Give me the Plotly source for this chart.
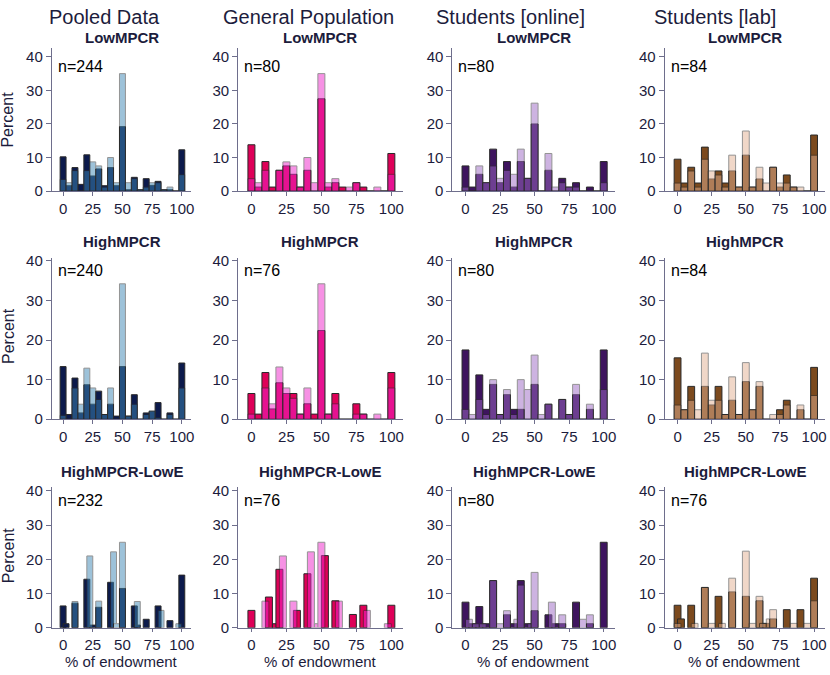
import plotly.graph_objects as go

W, H = 830, 675

BINS = [0, 5, 10, 15, 20, 25, 30, 35, 40, 45, 50, 55, 60, 65, 70, 75, 80, 85, 90, 95, 100]

COLUMNS = ['Pooled Data', 'General Population', 'Students [online]', 'Students [lab]']
ROWS = ['LowMPCR', 'HighMPCR', 'HighMPCR-LowE']
N_OBS = [[244, 80, 80, 84], [240, 76, 80, 84], [232, 76, 80, 76]]

# percent per bin (BINS), dark series (A) and light series (B)
POOLED_LOW_A = [10.2, 1.6, 7.0, 2.0, 10.8, 4.5, 6.6, 1.6, 7.0, 1.6, 19.2, 0.4, 4.1, 0.4, 3.7, 1.7, 2.9, 0.4, 0.4, 0, 12.3]
POOLED_LOW_B = [3.5, 2.5, 6.1, 0, 6.1, 8.7, 7.5, 1.2, 10.0, 2.5, 35.0, 2.5, 3.7, 0.4, 1.2, 2.5, 2.5, 0.4, 1.2, 0, 4.9]
GENPOP_LOW_A = [13.8, 1.2, 8.8, 1.2, 6.2, 7.5, 5.0, 1.2, 6.2, 0, 27.5, 1.2, 2.5, 1.2, 0, 2.5, 1.2, 0, 0, 0, 11.2]
GENPOP_LOW_B = [3.7, 2.5, 6.2, 0, 6.2, 8.7, 7.5, 1.2, 10.0, 2.5, 35.0, 2.5, 3.7, 0, 1.2, 2.5, 0, 0, 1.2, 0, 5.0]
ONLINE_LOW_A = [7.5, 1.2, 5.0, 2.5, 12.5, 2.5, 8.8, 1.2, 8.8, 3.8, 20.0, 0, 6.2, 0, 3.8, 1.2, 2.5, 0, 1.2, 0, 8.8]
ONLINE_LOW_B = [1.2, 0, 7.5, 2.5, 7.5, 3.8, 6.2, 5.0, 12.5, 3.8, 26.2, 0, 11.2, 1.2, 2.5, 1.2, 1.2, 0, 0, 0, 2.5]
LAB_LOW_A = [9.5, 2.4, 7.1, 2.4, 13.1, 3.6, 6.0, 2.4, 6.0, 1.2, 10.7, 1.2, 3.6, 0, 7.1, 1.2, 4.8, 1.2, 0, 0, 16.7]
LAB_LOW_B = [2.4, 1.2, 6.0, 1.2, 9.5, 6.0, 4.8, 1.2, 10.7, 1.2, 17.9, 1.2, 7.1, 2.4, 7.1, 2.4, 2.4, 1.2, 1.2, 0, 10.7]

POOLED_HIGH_A = [13.3, 1.2, 10.4, 1.6, 8.7, 3.8, 7.1, 1.2, 3.8, 0.8, 13.3, 0.8, 6.2, 0, 1.6, 2.0, 4.2, 0, 1.6, 0, 14.2]
POOLED_HIGH_B = [1.0, 0, 7.9, 3.8, 12.9, 7.9, 5.0, 1.2, 7.9, 0, 34.2, 0.8, 3.8, 0, 1.2, 2.1, 0.4, 0, 1.2, 0, 7.9]
GENPOP_HIGH_A = [6.5, 1.3, 11.8, 2.6, 9.2, 6.5, 6.5, 1.3, 3.9, 1.3, 22.4, 1.3, 6.5, 0, 0, 3.9, 1.3, 0, 0, 0, 11.8]
GENPOP_HIGH_B = [1.3, 0, 7.9, 3.9, 13.2, 7.9, 5.3, 1.3, 7.9, 0, 34.2, 1.3, 3.9, 0, 0, 1.3, 1.3, 0, 1.3, 0, 7.9]
ONLINE_HIGH_A = [17.5, 0, 11.2, 2.5, 8.8, 1.2, 6.2, 2.5, 2.5, 0, 8.8, 0, 3.8, 0, 5.0, 1.2, 6.2, 0, 2.5, 0, 17.5]
ONLINE_HIGH_B = [2.5, 1.2, 5.0, 1.2, 10.0, 1.2, 7.5, 1.2, 10.0, 7.5, 16.2, 1.2, 3.8, 0, 5.0, 1.2, 8.8, 0, 3.8, 0, 7.5]
LAB_HIGH_A = [15.5, 2.4, 8.3, 0, 8.3, 3.6, 8.3, 1.2, 4.8, 1.2, 9.5, 2.4, 8.3, 0, 0, 2.4, 4.8, 0, 2.4, 0, 13.1]
LAB_HIGH_B = [3.6, 2.4, 4.8, 2.4, 16.7, 4.8, 4.8, 1.2, 10.7, 1.2, 14.3, 2.4, 9.5, 0, 1.2, 1.2, 3.6, 0, 3.6, 0, 6.0]

# HighMPCR-LowE: the two series sit on different grids
POOLED_LOWE_A_X = [0, 2.5, 10, 20, 25, 30, 40, 50, 60, 62.5, 70, 80, 90, 100]
POOLED_LOWE_A = [6.4, 1.2, 7.2, 14.2, 0.8, 6.0, 13.3, 11.5, 6.4, 0.8, 2.5, 6.4, 2.1, 15.4]
POOLED_LOWE_B_X = [10, 22.5, 30, 42.5, 45, 50, 62.5, 82.5, 97.5]
POOLED_LOWE_B = [7.7, 21.0, 7.8, 22.2, 1.2, 25.0, 7.7, 5.1, 1.2]
GENPOP_LOWE_A_X = [0, 12.5, 17.5, 20, 32.5, 40, 52.5, 60, 72.5, 80, 100]
GENPOP_LOWE_A = [5.1, 9.0, 1.2, 17.1, 5.1, 15.8, 21.1, 7.9, 3.9, 6.6, 6.6]
GENPOP_LOWE_B_X = [10, 22.5, 30, 42.5, 47.5, 50, 62.5, 82.5, 97.5]
GENPOP_LOWE_B = [7.8, 21.0, 7.8, 22.2, 1.2, 25.0, 7.8, 5.1, 1.2]
ONLINE_LOWE_A_X = [0, 5, 10, 15, 20, 30, 35, 40, 45, 50, 60, 65, 70, 80, 90, 100]
ONLINE_LOWE_A = [7.5, 1.2, 6.2, 1.2, 13.8, 3.8, 1.2, 13.8, 1.2, 5.0, 3.8, 1.2, 1.2, 7.5, 1.2, 25.0]
ONLINE_LOWE_B_X = [2.5, 7.5, 12.5, 20, 25, 30, 37.5, 40, 47.5, 50, 62.5, 70, 85, 90]
ONLINE_LOWE_B = [2.5, 1.2, 1.2, 13.8, 1.2, 5.0, 2.5, 12.5, 1.2, 16.2, 7.5, 3.8, 2.5, 3.8]
LAB_LOWE_A_X = [0, 2.5, 10, 20, 30, 40, 50, 60, 65, 70, 80, 90, 100]
LAB_LOWE_A = [6.6, 2.6, 6.6, 11.8, 9.2, 10.5, 9.2, 7.9, 1.3, 2.6, 5.3, 5.3, 14.5]
LAB_LOWE_B_X = [0, 12.5, 20, 25, 32.5, 40, 50, 55, 60, 62.5, 67.5, 70, 85, 95, 100]
LAB_LOWE_B = [1.3, 1.3, 11.8, 1.3, 1.3, 14.5, 22.4, 1.3, 9.2, 1.3, 2.6, 5.3, 1.3, 1.3, 7.9]

# dark colour (opaque), light colour (drawn on top at half opacity)
DARK = ['#0d1b4d', '#de0058', '#3e145f', '#7d4b1e']
LIGHT = ['#3d85b3', '#ed25c9', '#9b69c3', '#e1af91']

PANELS = [
    [(BINS, POOLED_LOW_A, BINS, POOLED_LOW_B), (BINS, GENPOP_LOW_A, BINS, GENPOP_LOW_B),
     (BINS, ONLINE_LOW_A, BINS, ONLINE_LOW_B), (BINS, LAB_LOW_A, BINS, LAB_LOW_B)],
    [(BINS, POOLED_HIGH_A, BINS, POOLED_HIGH_B), (BINS, GENPOP_HIGH_A, BINS, GENPOP_HIGH_B),
     (BINS, ONLINE_HIGH_A, BINS, ONLINE_HIGH_B), (BINS, LAB_HIGH_A, BINS, LAB_HIGH_B)],
    [(POOLED_LOWE_A_X, POOLED_LOWE_A, POOLED_LOWE_B_X, POOLED_LOWE_B),
     (GENPOP_LOWE_A_X, GENPOP_LOWE_A, GENPOP_LOWE_B_X, GENPOP_LOWE_B),
     (ONLINE_LOWE_A_X, ONLINE_LOWE_A, ONLINE_LOWE_B_X, ONLINE_LOWE_B),
     (LAB_LOWE_A_X, LAB_LOWE_A, LAB_LOWE_B_X, LAB_LOWE_B)],
]

# plot areas in pixels
COL_PX = [(52, 192), (239, 404), (454, 617), (667, 828)]
ROW_PX = [(43, 189), (257, 422), (491, 635)]
Y_TOP = [42.6, 40.8, 41.2]
TITLE_Y = [32, 240, 475]
N_Y = [62, 270, 505]
PERCENT_Y = [116, 337, 561]

TEXT = '#1c1c3c'
AXIS = '#6e6e8c'


def ann(text, x, y, size, color=TEXT, anchor='center', angle=0):
    return dict(text=text, x=x / W, y=1 - y / H, xref='paper', yref='paper',
                showarrow=False, font=dict(size=size, color=color),
                xanchor=anchor, yanchor='middle', textangle=angle, borderpad=0)


fig = go.Figure()
layout = dict(
    width=W, height=H, margin=dict(l=0, r=0, t=0, b=0),
    paper_bgcolor='white', plot_bgcolor='white',
    barmode='overlay', showlegend=False,
    font=dict(family='Arial, Liberation Sans, sans-serif', color=TEXT),
)
annotations = []

for r in range(3):
    for c in range(4):
        k = r * 4 + c + 1
        xa = 'x' if k == 1 else f'x{k}'
        ya = 'y' if k == 1 else f'y{k}'
        ax, ay, bx, by = PANELS[r][c]
        fig.add_trace(go.Bar(
            x=ax, y=ay, width=5, xaxis=xa, yaxis=ya,
            marker=dict(color=DARK[c], line=dict(color='#2a2a2a', width=1)),
        ))
        fig.add_trace(go.Bar(
            x=bx, y=by, width=5, xaxis=xa, yaxis=ya, opacity=0.5,
            marker=dict(color=LIGHT[c], line=dict(color='#2a2a2a', width=1)),
        ))

        x0, x1 = COL_PX[c]
        y0, y1 = ROW_PX[r]
        common = dict(showline=True, linecolor=AXIS, linewidth=1, ticks='outside',
                      ticklen=5, tickcolor=AXIS, showgrid=False, zeroline=False,
                      tickfont=dict(size=15, color=TEXT))
        layout['xaxis' if k == 1 else f'xaxis{k}'] = dict(
            common, domain=[x0 / W, x1 / W], anchor=ya, range=[-9.5, 108],
            tickvals=[0, 25, 50, 75, 100], ticklen=3 if r == 2 else 4,
        )
        layout['yaxis' if k == 1 else f'yaxis{k}'] = dict(
            common, domain=[1 - y1 / H, 1 - y0 / H], anchor=xa, range=[0, Y_TOP[r]],
            tickvals=[0, 10, 20, 30, 40],
        )
        annotations.append(ann(f'<b>{ROWS[r]}</b>', (x0 + x1) / 2, TITLE_Y[r], 15))
        annotations.append(ann(f'n={N_OBS[r][c]}', x0 + 5, N_Y[r], 16, 'black', 'left'))
        if r == 2:
            annotations.append(ann('% of endowment', (x0 + x1) / 2, 669, 15))
    annotations.append(ann('Percent', 8, PERCENT_Y[r], 16, angle=-90))

COL_TITLE_X = [105, 310, 512, 718]
for c in range(4):
    annotations.append(ann(COLUMNS[c], COL_TITLE_X[c], 11, 20))

layout['annotations'] = annotations
fig.update_layout(**layout)
fig.write_html(
    'out.html', config={'displayModeBar': False},
    post_script=("document.documentElement.style.overflow='hidden';"
                 "document.body.style.margin='0';"
                 "document.body.style.overflow='hidden';"),
)
